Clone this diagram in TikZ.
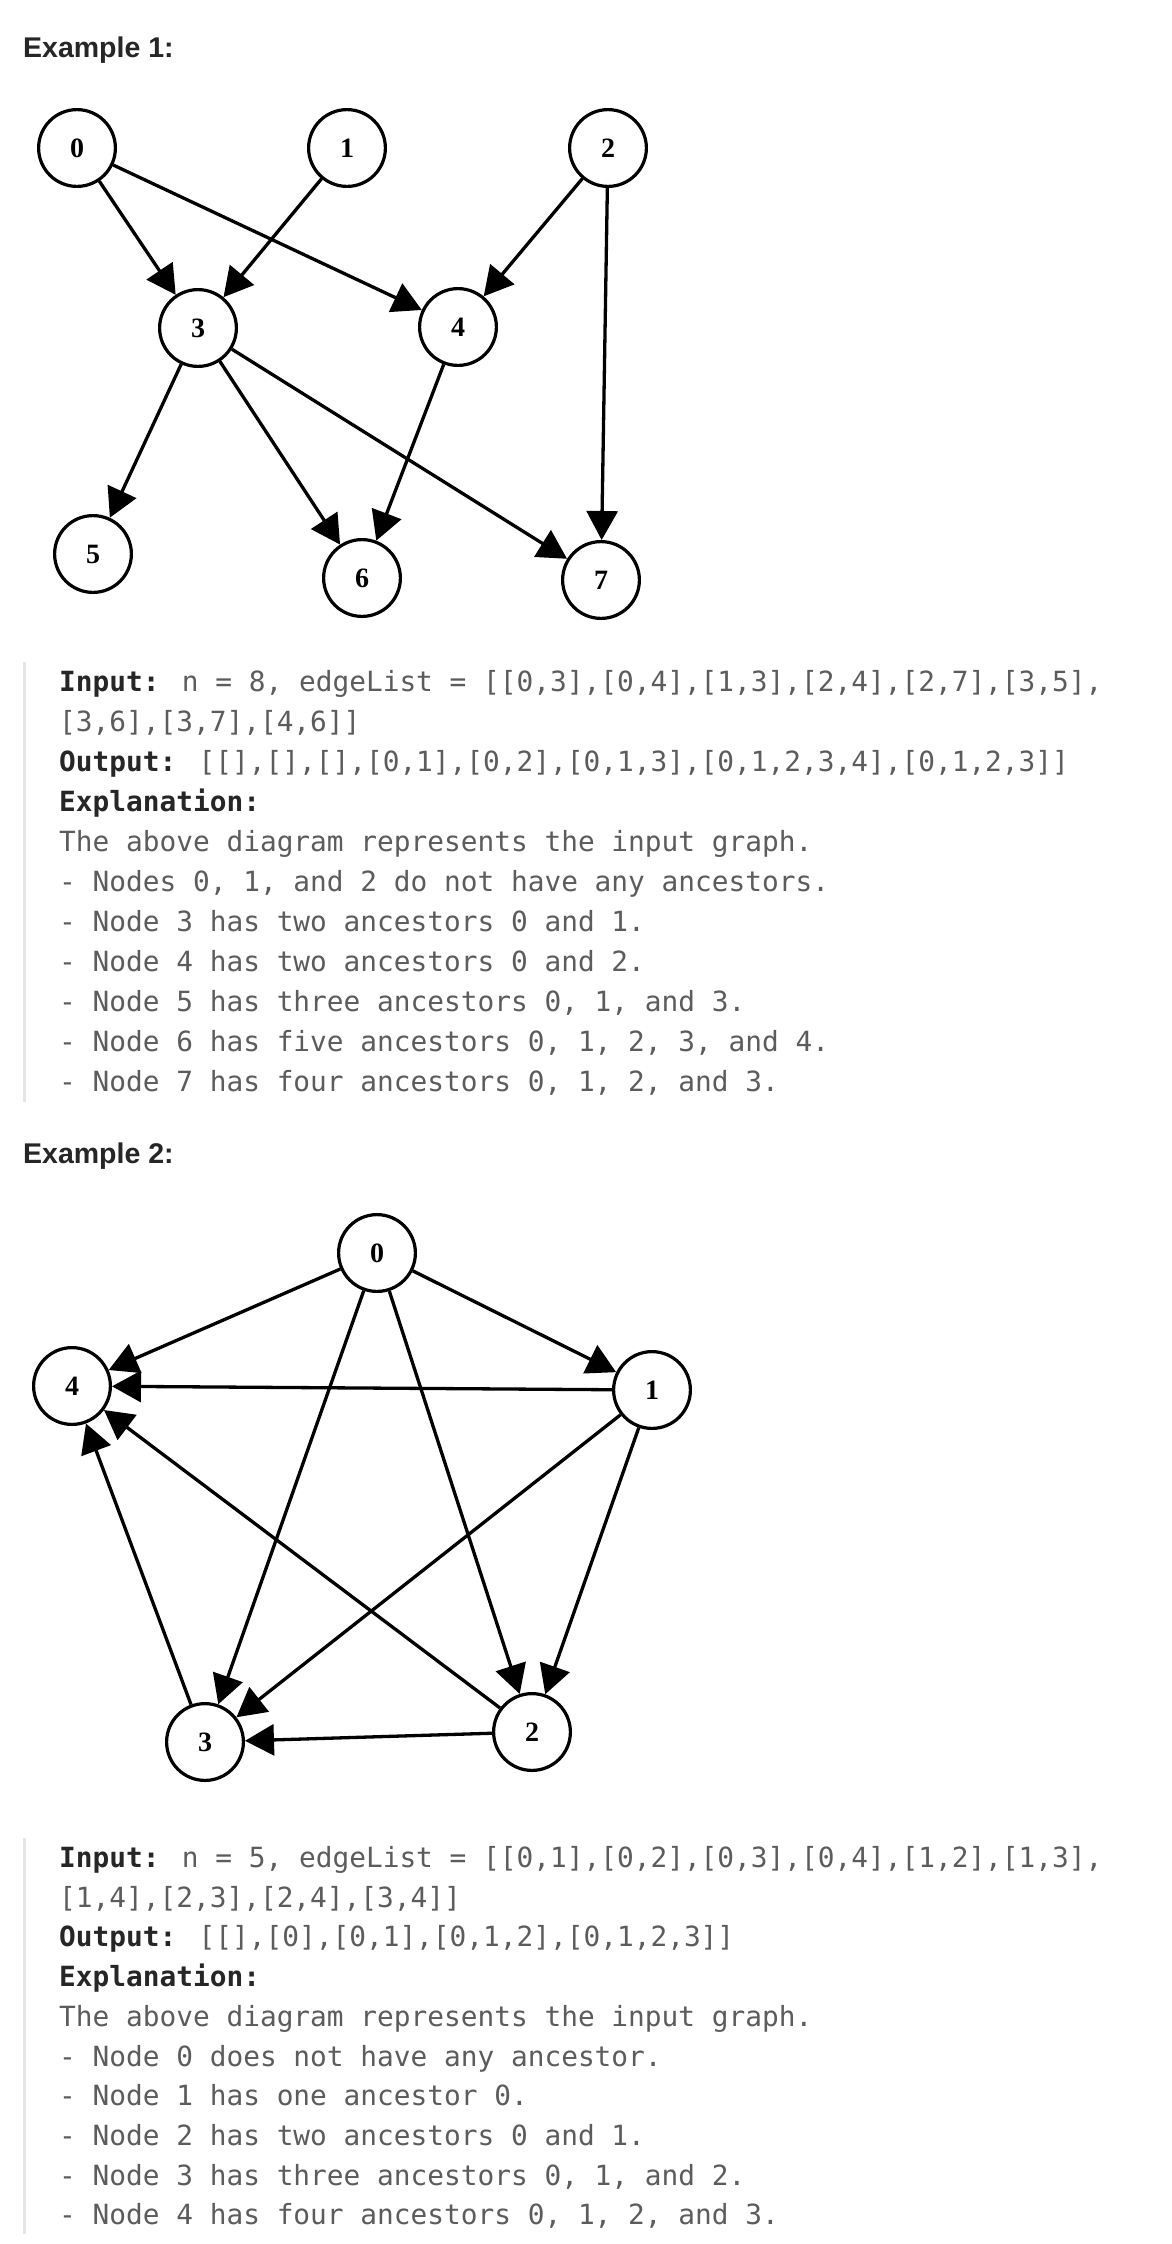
\documentclass[tikz,border=0pt]{standalone}
\usepackage{fontspec}
\usetikzlibrary{arrows.meta}
\newfontfamily\codefont{DejaVu Sans Mono}
\newfontfamily\headfont{Liberation Sans}
\newfontfamily\numfont{Liberation Serif}
\definecolor{labelc}{HTML}{262626}
\definecolor{bodyc}{HTML}{5C5C5C}
\definecolor{barc}{HTML}{E6E6E6}
\begin{document}
\begin{tikzpicture}[x=1pt,y=-1pt,
  vtx/.style={circle,draw=black,line width=3.2pt,minimum size=76.8pt,inner sep=0pt,
    font=\numfont\bfseries\fontsize{28}{28}\selectfont},
  edge/.style={line width=3.3pt,-{Triangle[length=29pt,width=31pt]}},
  head/.style={anchor=base west,inner sep=0pt,
    font=\headfont\bfseries\fontsize{28.5}{32}\selectfont,text=labelc},
  codeline/.style={anchor=base west,inner sep=0pt,
    font=\codefont\fontsize{27.8}{32}\selectfont,text=bodyc}]
\fill[white] (0,0) rectangle (1172,2244);
\useasboundingbox (0,0) rectangle (1172,2244);

% ---------- Example 1 ----------
\node[head] (h1) at (23,57) {Example 1:};
\node[vtx] (a0) at (77,148) {0};
\node[vtx] (a1) at (347,148) {1};
\node[vtx] (a2) at (608,148) {2};
\node[vtx] (a3) at (198,328) {3};
\node[vtx] (a4) at (458,327) {4};
\node[vtx] (a5) at (93,554) {5};
\node[vtx] (a6) at (362,578) {6};
\node[vtx] (a7) at (601,580) {7};
\draw[edge] (a0) -- (a3);
\draw[edge] (a0) -- (a4);
\draw[edge] (a1) -- (a3);
\draw[edge] (a2) -- (a4);
\draw[edge] (a2) -- (a7);
\draw[edge] (a3) -- (a5);
\draw[edge] (a3) -- (a6);
\draw[edge] (a3) -- (a7);
\draw[edge] (a4) -- (a6);

\fill[barc] (23,662) rectangle (26,1102);
\node[codeline] (t1a) at (59,691) {{\color{labelc}\bfseries Input:} n = 8, edgeList = [[0,3],[0,4],[1,3],[2,4],[2,7],[3,5],};
\node[codeline] (t1b) at (59,731) {[3,6],[3,7],[4,6]]};
\node[codeline] (t1c) at (59,771) {{\color{labelc}\bfseries Output:} [[],[],[],[0,1],[0,2],[0,1,3],[0,1,2,3,4],[0,1,2,3]]};
\node[codeline] (t1d) at (59,811) {{\color{labelc}\bfseries Explanation:}};
\node[codeline] (t1e) at (59,851) {The above diagram represents the input graph.};
\node[codeline] (t1f) at (59,891) {- Nodes 0, 1, and 2 do not have any ancestors.};
\node[codeline] (t1g) at (59,931) {- Node 3 has two ancestors 0 and 1.};
\node[codeline] (t1h) at (59,971) {- Node 4 has two ancestors 0 and 2.};
\node[codeline] (t1i) at (59,1011) {- Node 5 has three ancestors 0, 1, and 3.};
\node[codeline] (t1j) at (59,1051) {- Node 6 has five ancestors 0, 1, 2, 3, and 4.};
\node[codeline] (t1k) at (59,1091) {- Node 7 has four ancestors 0, 1, 2, and 3.};

% ---------- Example 2 ----------
\node[head] (h2) at (23,1163) {Example 2:};
\node[vtx] (b0) at (377,1253) {0};
\node[vtx] (b1) at (652,1390) {1};
\node[vtx] (b2) at (532,1732) {2};
\node[vtx] (b3) at (205,1742) {3};
\node[vtx] (b4) at (72,1386) {4};
\draw[edge] (b0) -- (b1);
\draw[edge] (b0) -- (b2);
\draw[edge] (b0) -- (b3);
\draw[edge] (b0) -- (b4);
\draw[edge] (b1) -- (b2);
\draw[edge] (b1) -- (b3);
\draw[edge] (b1) -- (b4);
\draw[edge] (b2) -- (b3);
\draw[edge] (b2) -- (b4);
\draw[edge] (b3) -- (b4);

\fill[barc] (23,1838) rectangle (26,2234);
\node[codeline] (t2a) at (59,1867) {{\color{labelc}\bfseries Input:} n = 5, edgeList = [[0,1],[0,2],[0,3],[0,4],[1,2],[1,3],};
\node[codeline] (t2b) at (59,1907) {[1,4],[2,3],[2,4],[3,4]]};
\node[codeline] (t2c) at (59,1946) {{\color{labelc}\bfseries Output:} [[],[0],[0,1],[0,1,2],[0,1,2,3]]};
\node[codeline] (t2d) at (59,1986) {{\color{labelc}\bfseries Explanation:}};
\node[codeline] (t2e) at (59,2026) {The above diagram represents the input graph.};
\node[codeline] (t2f) at (59,2066) {- Node 0 does not have any ancestor.};
\node[codeline] (t2g) at (59,2105) {- Node 1 has one ancestor 0.};
\node[codeline] (t2h) at (59,2145) {- Node 2 has two ancestors 0 and 1.};
\node[codeline] (t2i) at (59,2185) {- Node 3 has three ancestors 0, 1, and 2.};
\node[codeline] (t2j) at (59,2224) {- Node 4 has four ancestors 0, 1, 2, and 3.};
\end{tikzpicture}
\end{document}
